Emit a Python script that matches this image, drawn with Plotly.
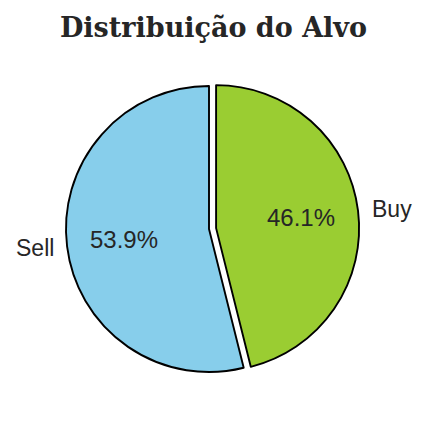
import math
import plotly.graph_objects as go

labels = ["Buy", "Sell"]
values = [46.1, 53.9]
colors = ["#9ACD32", "#87CEEB"]
pulls = [0.05, 0]

W, H = 427, 422
cx, cy, r = 209, 229, 143          # pixel centre and radius of the pie
half = r * (1 + max(pulls))
dom_x = [(cx - half) / W, (cx + half) / W]
dom_y = [1 - (cy + half) / H, 1 - (cy - half) / H]

fig = go.Figure()
fig.add_trace(go.Pie(
    labels=labels, values=values, sort=False, direction="counterclockwise",
    rotation=0, pull=pulls,
    marker=dict(colors=colors, line=dict(color="black", width=1.9)),
    textinfo="none", domain=dict(x=dom_x, y=dom_y),
    showlegend=False, hoverinfo="skip",
))

# text placed at the slice mid-angles (computed from the data)
total = sum(values)
pct_font = dict(family="Liberation Sans, Arial, sans-serif", size=24, color="#262626")
lab_font = dict(family="Liberation Sans, Arial, sans-serif", size=23, color="#262626")
annotations = []
angle = 90.0  # Buy runs clockwise from 12 o'clock
for lab, val, pl in zip(labels, values, pulls):
    span = 360.0 * val / total
    mid = angle - span / 2
    angle -= span
    c, s = math.cos(math.radians(mid)), math.sin(math.radians(mid))
    ox, oy = cx + pl * r * c, cy - pl * r * s
    px, py = ox + 0.6 * r * c, oy - 0.6 * r * s
    lx, ly = ox + 1.1 * r * c, oy - 1.1 * r * s
    annotations.append(dict(x=px / W, y=1 - py / H, xref="paper", yref="paper",
                            text=f"{100 * val / total:.1f}%", showarrow=False,
                            xanchor="center", yanchor="middle", font=pct_font))
    annotations.append(dict(x=lx / W, y=1 - ly / H, xref="paper", yref="paper",
                            text=lab, showarrow=False,
                            xanchor="left" if c > 0 else "right", yanchor="middle",
                            xshift=-2 if c > 0 else 3,
                            font=lab_font))

fig.update_layout(
    width=W, height=H, margin=dict(l=0, r=0, t=0, b=0),
    paper_bgcolor="white", plot_bgcolor="white",
    annotations=annotations,
    title=dict(text="<b>Distribuição do Alvo</b>", x=0.5, xanchor="center",
               y=1 - 28 / H, yanchor="middle",
               font=dict(family="DejaVu Serif, serif", size=27, color="#262626")),
)
fig.write_html("out.html")
